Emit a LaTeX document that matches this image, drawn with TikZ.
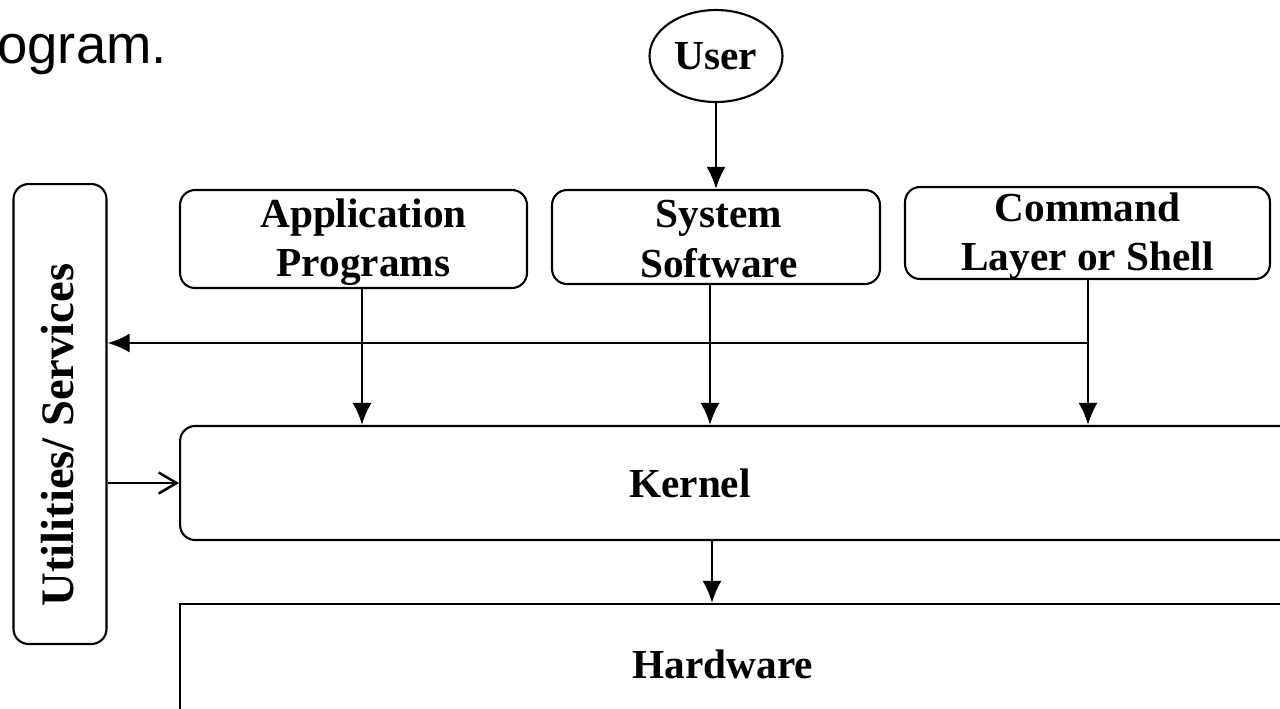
\documentclass[tikz,border=0pt]{standalone}
\usepackage{fontspec}
\setmainfont{Liberation Serif}
\newfontfamily\slidefont{Liberation Sans}
\usetikzlibrary{shapes.geometric,arrows.meta,calc}
\tikzset{
  box/.style={draw, line width=1.2pt, rounded corners=0.3cm, inner sep=0pt, align=center},
  plainbox/.style={draw, line width=1.2pt, inner sep=0pt},
  lbl/.style={font=\fontsize{23.5}{28}\selectfont\bfseries, align=center, inner sep=0pt},
  arr/.style={line width=1.4pt, -{Latex[length=0.44cm,width=0.38cm]}},
  openarr/.style={line width=1.4pt, -{Straight Barb[length=0.36cm,width=0.42cm,line width=1.4pt]}},
}
\begin{document}
\begin{tikzpicture}[x=0.02cm,y=-0.02cm]
\clip (0,0) rectangle (1280,708);
\fill[white] (0,0) rectangle (1280,708);
% slide text fragment
\node[anchor=base west, inner sep=0pt, font=\slidefont\fontsize{31}{36}\selectfont] (slidetxt) at (-3,63) {ogram.};
% user
\node[draw, ellipse, line width=1.2pt, minimum width=2.66cm, minimum height=1.84cm, inner sep=0pt, lbl] (user) at (716,56) {User};
% top boxes
\node[box, minimum width=6.94cm, minimum height=1.96cm,
  label={[lbl, xshift=0.2cm, yshift=-0.06cm]center:Application\\Programs}] (app) at (353.5,239) {};
\node[box, minimum width=6.56cm, minimum height=1.88cm,
  label={[lbl, xshift=0.06cm, yshift=-0.04cm]center:System\\Software}] (sys) at (716,237) {};
\node[box, minimum width=7.3cm, minimum height=1.84cm,
  label={[lbl, yshift=-0.06cm]center:Command\\Layer or Shell}] (cmd) at (1087.5,233) {};
% utilities
\node[box, minimum width=1.86cm, minimum height=9.2cm] (util) at (60,414) {};
\node[lbl, font=\fontsize{26.5}{30}\selectfont\bfseries, rotate=90] (utiltxt) at (58,435) {Utilities/ Services};
% kernel and hardware
\node[box, minimum width=22.6cm, minimum height=2.28cm] (kernel) at (745,483) {};
\node[lbl] (kerneltxt) at (690,483) {Kernel};
\node[plainbox, minimum width=22.6cm, minimum height=2.72cm] (hw) at (745,672) {};
\node[lbl] (hwtxt) at (723,664) {Hardware};
% connectors
\draw[arr] (user.south) -- (sys.north);
\coordinate (appdown) at (362,288);
\draw[arr] (app.south -| appdown) -- (appdown |- kernel.north);
\coordinate (sysdown) at (710,284);
\draw[arr] (sys.south -| sysdown) -- (sysdown |- kernel.north);
\coordinate (cmddown) at (1088,279);
\draw[arr] (cmd.south -| cmddown) -- (cmddown |- kernel.north);
\coordinate (junc) at (1088,343);
\draw[arr] (junc) -- (junc -| util.east);
\draw[openarr] (util.east |- kernel.west) -- (kernel.west);
\coordinate (kdown) at (712,540);
\draw[arr] (kernel.south -| kdown) -- (kdown |- hw.north);
\end{tikzpicture}
\end{document}
